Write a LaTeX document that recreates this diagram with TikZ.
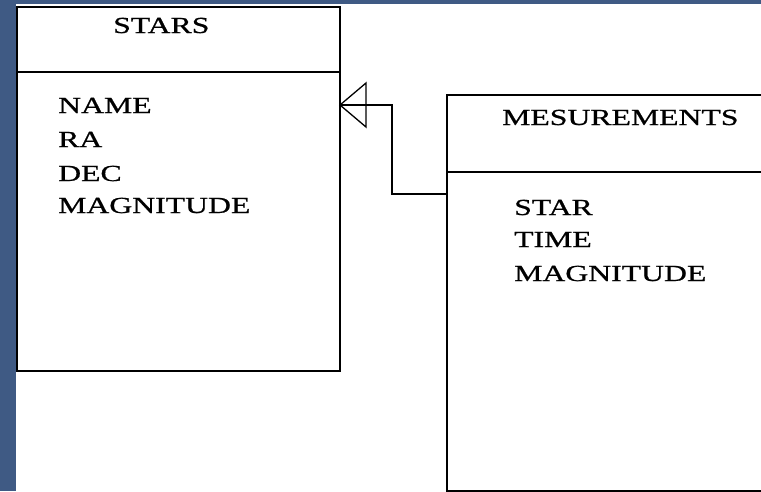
\documentclass[tikz,border=0pt]{standalone}
\usepackage{fontspec}
\newfontfamily\erfont[FakeStretch=1.38,FakeBold=0.8]{Liberation Serif}
\definecolor{slide}{HTML}{3F5A84}
\begin{document}
\begin{tikzpicture}[x=1pt,y=-1pt,
  entity/.style={draw=black, line width=1.8pt, fill=white, rectangle, anchor=north west, inner sep=0pt},
  divider/.style={draw=black, line width=1.8pt},
  conn/.style={draw=black, line width=1.8pt},
  tri/.style={draw=black, line width=1.3pt},
  lbl/.style={anchor=base west, inner sep=0pt, font=\erfont\fontsize{23}{25}\selectfont}]
\useasboundingbox (0,0) rectangle (761,491);
\clip (0,0) rectangle (761,491);
\fill[white] (0,0) rectangle (761,491);
\fill[slide] (0,0) rectangle (15.5,491);
\fill[slide] (0,0) rectangle (761,3.5);
% entities
\node[entity, minimum width=323pt, minimum height=364pt] (stars) at (16,6) {};
\node[entity, minimum width=340pt, minimum height=396pt] (meas) at (446,94) {};
\draw[divider] (stars.west |- {(0,72)}) coordinate (sd1) -- (stars.east |- sd1);
\draw[divider] (meas.west |- {(0,172)}) coordinate (md1) -- (meas.east |- md1);
% labels
\node[lbl] (tstars) at (113,33) {STARS};
\node[lbl] (a1) at (58,113) {NAME};
\node[lbl] (a2) at (58,147) {RA};
\node[lbl] (a3) at (58,181) {DEC};
\node[lbl] (a4) at (58,213) {MAGNITUDE};
\node[lbl] (tmeas) at (502,125) {MESUREMENTS};
\node[lbl] (b1) at (514,215) {STAR};
\node[lbl] (b2) at (514,247) {TIME};
\node[lbl] (b3) at (514,281) {MAGNITUDE};
% connector
\coordinate (cm) at (446,194);
\coordinate (bend) at (392,105);
\coordinate (apex) at (340,105);
\draw[conn] (cm) -| (bend) -- (apex);
\draw[tri] (apex) -- (366,83) -- (366,127) -- cycle;
\end{tikzpicture}
\end{document}
